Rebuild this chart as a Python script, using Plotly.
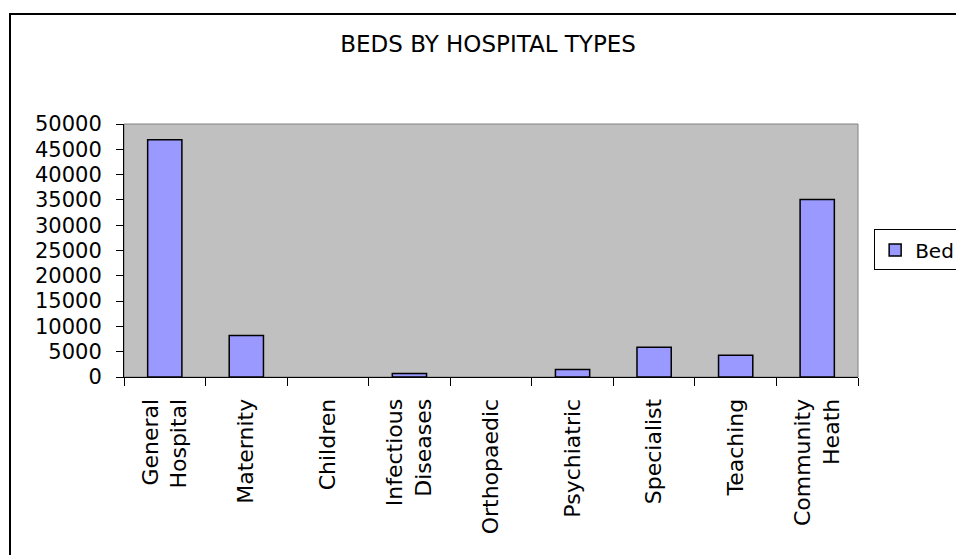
import plotly.graph_objects as go

categories = ["General<br>Hospital", "Maternity", "Children", "Infectious<br>Diseases",
              "Orthopaedic", "Psychiatric", "Specialist", "Teaching", "Community<br>Heath"]
beds = [46900, 8200, 0, 700, 0, 1500, 5900, 4300, 35100]
y_ticks = list(range(0, 50001, 5000))

FONT = "DejaVu Sans"

fig = go.Figure()
fig.add_trace(go.Bar(
    x=categories, y=beds, name="Bed",
    marker=dict(color="#9999FF",
                line=dict(color="black", width=[1.5 if v > 0 else 0 for v in beds])),
))

fig.update_layout(
    width=956, height=555,
    margin=dict(l=124, r=98, t=124, b=178, autoexpand=False),
    paper_bgcolor="white", plot_bgcolor="#C0C0C0",
    bargap=0.58,
    font=dict(family=FONT, color="black"),
    title=dict(text="BEDS BY HOSPITAL TYPES", x=0.496, xref="paper", xanchor="center",
               y=1 - 44 / 555, yref="container", yanchor="middle",
               font=dict(family=FONT, size=23, color="black")),
    showlegend=True,
    legend=dict(x=1.022, xanchor="left", y=0.502, yanchor="middle",
                bgcolor="white", bordercolor="black", borderwidth=1,
                font=dict(family=FONT, size=20, color="black")),
    shapes=[
        dict(type="rect", xref="paper", yref="paper", x0=0, x1=1, y0=0, y1=1,
             line=dict(color="#808080", width=1), layer="below"),
        dict(type="rect", xref="paper", yref="paper",
             x0=(10 - 124) / 734, x1=1.3, y0=-1.0, y1=(377 - 14) / 253,
             line=dict(color="black", width=2), fillcolor="rgba(0,0,0,0)"),
    ],
)

fig.update_yaxes(range=[0, 50000], tickvals=y_ticks, tickformat="d",
                 showgrid=False, zeroline=False,
                 showline=True, linecolor="black", linewidth=1,
                 ticks="outside", ticklen=7, tickcolor="black", tickwidth=1,
                 ticklabelstandoff=10,
                 tickfont=dict(family=FONT, size=21, color="black"))
fig.update_xaxes(tickangle=-90, tickson="boundaries",
                 showgrid=False, zeroline=False,
                 showline=True, linecolor="black", linewidth=1,
                 ticks="outside", ticklen=8, tickcolor="black", tickwidth=1,
                 ticklabelstandoff=12,
                 tickfont=dict(family=FONT, size=22, color="black"))

fig.write_html("out.html", config={"displayModeBar": False},
               post_script="document.body.style.margin='0';document.body.style.overflow='hidden';")
